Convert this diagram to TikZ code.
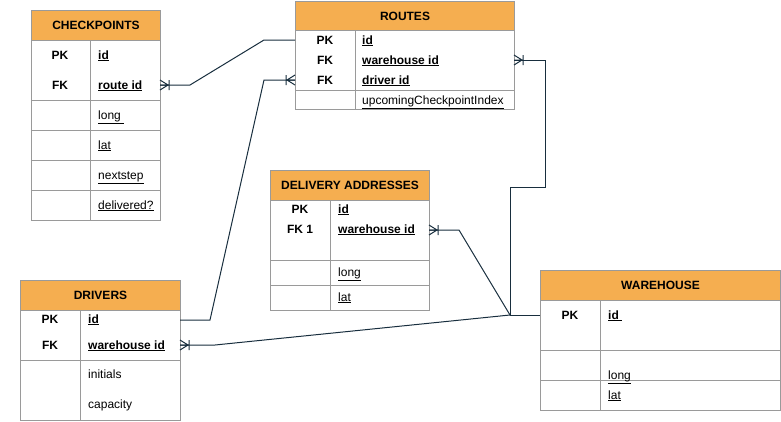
\documentclass[tikz,border=0pt]{standalone}
\usepackage{fontspec}
\setmainfont{Liberation Sans}
\definecolor{hdr}{HTML}{F5AE50}
\definecolor{bord}{HTML}{9A9A9A}
\definecolor{edgec}{HTML}{182E3E}
\begin{document}
\begin{tikzpicture}[x=1pt,y=-1pt,
  font=\fontsize{12}{14}\selectfont,
  hdrbox/.style={draw=bord, fill=hdr, line width=1pt, anchor=north west, inner sep=0pt, font=\fontsize{12}{14}\selectfont\bfseries},
  tbl/.style={draw=bord, line width=1pt},
  keytxt/.style={anchor=base, inner sep=0pt, font=\fontsize{12}{14}\selectfont\bfseries},
  fld/.style={anchor=base west, inner sep=0pt},
  conn/.style={draw=edgec, line width=1pt},
  crow/.pic={\draw[conn] (0,-5) -- (8,0) -- (0,5) (0,0) -- (8,0) (9,-5) -- (9,5);}
]
\useasboundingbox (0,0) rectangle (781,421);

% ---------- CHECKPOINTS ----------
\node[hdrbox, minimum width=129, minimum height=30] (cp) at (31,10) {CHECKPOINTS};
\draw[tbl] (31,40) rectangle (160,220);
\draw[tbl] (90,40) -- (90,220);
\foreach \yy in {100,130,160,190} \draw[tbl] (31,\yy) -- (160,\yy);
\node[keytxt] (cpPK) at (60,59) {PK};
\node[keytxt] (cpFK) at (60,89) {FK};
\node[fld,font=\fontsize{12}{14}\selectfont\bfseries] (cpid) at (98,59) {\underline{id}};
\node[fld,font=\fontsize{12}{14}\selectfont\bfseries] (cproute) at (98,89) {\underline{route id}};
\node[fld] (cplong) at (98,119) {\underline{long\ }};
\node[fld] (cplat) at (98,149) {\underline{lat}};
\node[fld] (cpnext) at (98,179) {\underline{nextstep}};
\node[fld] (cpdel) at (98,209) {\underline{delivered?}};

% ---------- ROUTES ----------
\node[hdrbox, minimum width=219, minimum height=29] (rt) at (295,1) {ROUTES};
\draw[tbl] (295,30) rectangle (514,109);
\draw[tbl] (355,30) -- (355,109);
\draw[tbl] (295,90) -- (514,90);
\node[keytxt] (rtPK) at (325,44) {PK};
\node[keytxt] (rtFK1) at (325,64) {FK};
\node[keytxt] (rtFK2) at (325,84) {FK};
\node[fld,font=\fontsize{12}{14}\selectfont\bfseries] (rtid) at (362,44) {\underline{id}};
\node[fld,font=\fontsize{12}{14}\selectfont\bfseries] (rtwh) at (362,64) {\underline{warehouse id}};
\node[fld,font=\fontsize{12}{14}\selectfont\bfseries] (rtdrv) at (362,84) {\underline{driver id}};
\node[fld] (rtup) at (362,104) {\underline{upcomingCheckpointIndex}};

% ---------- DELIVERY ADDRESSES ----------
\node[hdrbox, minimum width=159, minimum height=30] (da) at (270,170) {DELIVERY ADDRESSES};
\draw[tbl] (270,200) rectangle (429,310);
\draw[tbl] (330,200) -- (330,310);
\draw[tbl] (270,260) -- (429,260);
\draw[tbl] (270,285) -- (429,285);
\node[keytxt] (daPK) at (300,213) {PK};
\node[keytxt] (daFK) at (300,233) {FK 1};
\node[fld,font=\fontsize{12}{14}\selectfont\bfseries] (daid) at (338,213) {\underline{id}};
\node[fld,font=\fontsize{12}{14}\selectfont\bfseries] (dawh) at (338,233) {\underline{warehouse id}};
\node[fld] (dalong) at (338,276) {\underline{long}};
\node[fld] (dalat) at (338,301) {\underline{lat}};

% ---------- DRIVERS ----------
\node[hdrbox, minimum width=160, minimum height=30] (dr) at (20,280) {DRIVERS};
\draw[tbl] (20,310) rectangle (180,420);
\draw[tbl] (80,310) -- (80,420);
\draw[tbl] (20,360) -- (180,360);
\node[keytxt] (drPK) at (50,323) {PK};
\node[keytxt] (drFK) at (50,349) {FK};
\node[fld,font=\fontsize{12}{14}\selectfont\bfseries] (drid) at (88,323) {\underline{id}};
\node[fld,font=\fontsize{12}{14}\selectfont\bfseries] (drwh) at (88,349) {\underline{warehouse id}};
\node[fld] (drini) at (88,378) {initials};
\node[fld] (drcap) at (88,408) {capacity};

% ---------- WAREHOUSE ----------
\node[hdrbox, minimum width=240, minimum height=30] (wh) at (540,270) {WAREHOUSE};
\draw[tbl] (540,300) rectangle (780,410);
\draw[tbl] (600,300) -- (600,410);
\draw[tbl] (540,350) -- (780,350);
\draw[tbl] (540,380) -- (780,380);
\node[keytxt] (whPK) at (570,319) {PK};
\node[fld,font=\fontsize{12}{14}\selectfont\bfseries] (whid) at (608,319) {\underline{id\ }};
\node[fld] (whlong) at (608,379) {\underline{long}};
\node[fld] (whlat) at (608,399) {\underline{lat}};

% ---------- connection points ----------
\coordinate (cpR) at (160,85);
\coordinate (rtIdL) at (295,40);
\coordinate (rtDrvL) at (295,80);
\coordinate (rtWhR) at (514,60);
\coordinate (drIdR) at (180,320);
\coordinate (drWhR) at (180,345);
\coordinate (daWhR) at (429,230);
\coordinate (whIdL) at (540,315);
\coordinate (hub) at (510,315);

% ---------- connectors ----------
\draw[conn] (cpR) -- (190,85) -- (264,40) -- (rtIdL);
\pic at (cpR) {crow};

\draw[conn] (drIdR) -- (210,320) -- (264,80) -- (rtDrvL);
\pic[xscale=-1] at (rtDrvL) {crow};

\draw[conn] (whIdL) -- (hub) -- (510,187) -- (545,187) -- (545,60) -- (rtWhR);
\pic at (rtWhR) {crow};

\draw[conn] (hub) -- (459,230) -- (daWhR);
\pic at (daWhR) {crow};

\draw[conn] (hub) -- (215,345) -- (drWhR);
\pic at (drWhR) {crow};
\end{tikzpicture}
\end{document}
